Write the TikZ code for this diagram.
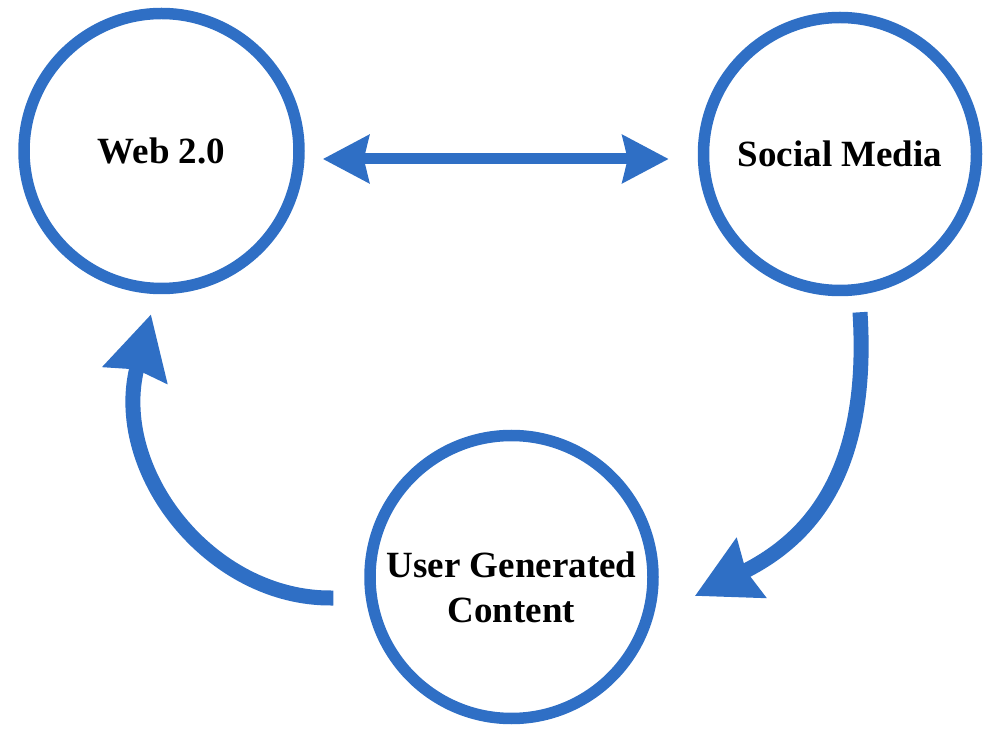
\documentclass[tikz,border=0pt]{standalone}
\usepackage{fontspec}
\setmainfont{Liberation Serif}
\usetikzlibrary{arrows.meta}
\definecolor{flowblue}{RGB}{47,111,197}

\begin{document}
\begin{tikzpicture}
  [
    x=1pt, y=-1pt,
    line cap=butt, line join=round,
    stage/.style={circle, draw=flowblue, line width=11.5pt, minimum size=275pt,
      inner sep=0pt, align=center, font=\fontsize{37}{45}\selectfont\bfseries},
    link/.style={flowblue, line width=11pt,
      >={Stealth[length=46pt, width=47pt, inset=5pt]}, <->},
    feed/.style={flowblue, line width=15pt,
      >={Stealth[length=62pt, width=64pt, inset=5pt]}, ->},
  ]

\useasboundingbox (0,0) rectangle (1005,743);

% the three circles
\node[stage] (web) at (161.5,151) {Web 2.0};
\node[stage, minimum size=273pt] (social) at (840,154) {Social Media};
\node[stage, minimum size=283pt, text height=90pt, text depth=0pt]
  (ugc) at (511.5,577) {User Generated\\Content};

% arrows between them
\draw[link] ([shift={(18,8)}]web.east) -- ([shift={(-29,5)}]social.west);
\draw[feed] ([shift={(20,16)}]social.south)
  .. controls +(10,158) and +(117,-58) .. ([shift={(36,19)}]ugc.east);
\draw[feed] ([shift={(-31,21)}]ugc.west)
  .. controls +(-123,2) and +(-41,156) .. ([shift={(-10.5,20)}]web.south);

\end{tikzpicture}
\end{document}
